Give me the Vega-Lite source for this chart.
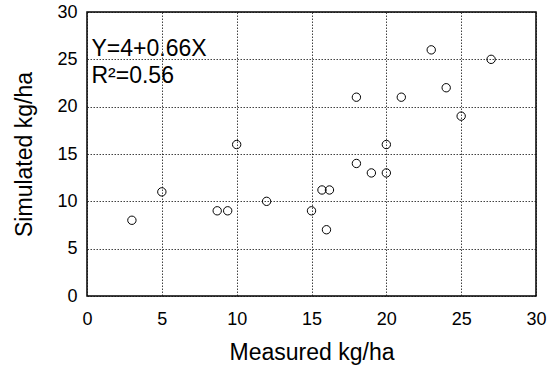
{
  "$schema": "https://vega.github.io/schema/vega-lite/v6.json",
  "autosize": {"type": "none"},
  "padding": {"left": 87, "top": 12, "right": 22, "bottom": 69},
  "width": 449,
  "height": 284,
  "background": "white",
  "config": {
    "view": {"stroke": "black", "strokeWidth": 1.5},
    "font": "Liberation Sans",
    "axis": {
      "domain": false,
      "ticks": false,
      "grid": true,
      "gridColor": "#111",
      "gridDash": [1.5, 1.5],
      "gridWidth": 0.8,
      "gridOpacity": 1,
      "labelFont": "Liberation Sans",
      "labelFontSize": 18,
      "labelColor": "black",
      "labelFlush": false,
      "labelOverlap": false,
      "titleFont": "Liberation Sans",
      "titleFontSize": 23,
      "titleFontWeight": "normal",
      "titleColor": "black"
    }
  },
  "layer": [
    {
      "data": {
        "values": [
          {"measured": 3, "simulated": 8},
          {"measured": 5, "simulated": 11},
          {"measured": 8.7, "simulated": 9},
          {"measured": 9.4, "simulated": 9},
          {"measured": 10, "simulated": 16},
          {"measured": 12, "simulated": 10},
          {"measured": 15, "simulated": 9},
          {"measured": 15.7, "simulated": 11.2},
          {"measured": 16.2, "simulated": 11.2},
          {"measured": 16, "simulated": 7},
          {"measured": 18, "simulated": 14},
          {"measured": 18, "simulated": 21},
          {"measured": 19, "simulated": 13},
          {"measured": 20, "simulated": 13},
          {"measured": 20, "simulated": 16},
          {"measured": 21, "simulated": 21},
          {"measured": 23, "simulated": 26},
          {"measured": 24, "simulated": 22},
          {"measured": 25, "simulated": 19},
          {"measured": 27, "simulated": 25}
        ]
      },
      "mark": {"type": "point", "shape": "circle", "filled": false, "stroke": "black", "strokeWidth": 1, "size": 70, "opacity": 1},
      "encoding": {
        "x": {
          "field": "measured",
          "type": "quantitative",
          "scale": {"domain": [0, 30], "nice": false, "zero": false},
          "axis": {"values": [0, 5, 10, 15, 20, 25, 30], "title": "Measured kg/ha", "labelPadding": 14, "titlePadding": 13}
        },
        "y": {
          "field": "simulated",
          "type": "quantitative",
          "scale": {"domain": [0, 30], "nice": false, "zero": false},
          "axis": {"values": [0, 5, 10, 15, 20, 25, 30], "title": "Simulated kg/ha", "labelPadding": 10, "titlePadding": 20}
        }
      }
    },
    {
      "data": {"values": [{"label": "equation"}]},
      "mark": {
        "type": "text",
        "text": ["Y=4+0.66X", "R²=0.56"],
        "align": "left",
        "baseline": "alphabetic",
        "fontSize": 23,
        "lineHeight": 27,
        "color": "black",
        "font": "Liberation Sans"
      },
      "encoding": {
        "x": {"datum": 0.3, "type": "quantitative"},
        "y": {"datum": 25.35, "type": "quantitative"}
      }
    }
  ]
}
